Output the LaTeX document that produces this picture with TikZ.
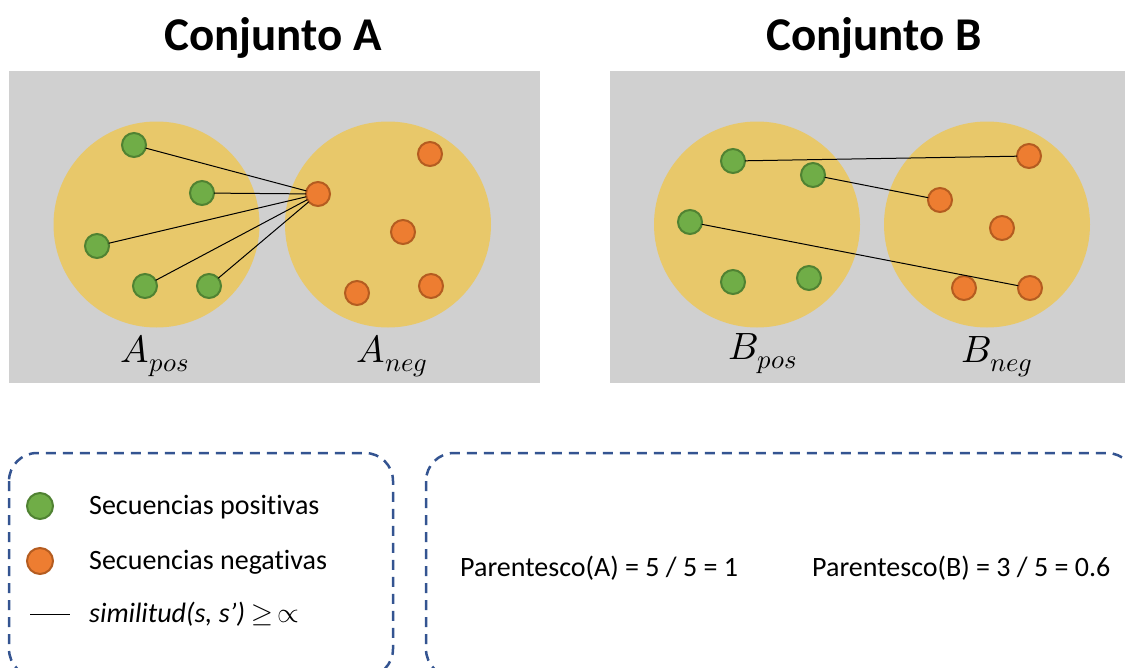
\documentclass[tikz,border=0pt]{standalone}
\usepackage{fontspec}
\usepackage{unicode-math}
\setmainfont{Carlito}[Ligatures=NoCommon]
\setmathfont{Latin Modern Math}
\usepackage{tkz-graph}
\definecolor{fondo}{RGB}{208,208,208}
\definecolor{amarillo}{RGB}{232,200,106}
\definecolor{verde}{RGB}{112,173,71}
\definecolor{verdeosc}{RGB}{80,130,50}
\definecolor{naranja}{RGB}{237,125,49}
\definecolor{naranjaosc}{RGB}{180,92,32}
\definecolor{marco}{RGB}{52,84,145}
\newcommand{\positiva}{verde}
\newcommand{\negativa}{naranja}
\tikzset{
  positivo/.style={circle, fill=\positiva, draw=verdeosc, line width=2pt, minimum size=24pt, inner sep=0pt},
  negativo/.style={circle, fill=\negativa, draw=naranjaosc, line width=2pt, minimum size=24pt, inner sep=0pt},
  conjunto/.style={circle, fill=amarillo, minimum size=206pt, inner sep=0pt},
  titulo/.style={font=\bfseries\fontsize{47}{50}\selectfont, anchor=base},
  etiqueta/.style={font=\fontsize{38}{42}\selectfont, anchor=base},
  texto/.style={font=\fontsize{28}{30}\selectfont, anchor=base west, inner sep=0pt},
  recuadro/.style={draw=marco, line width=2.5pt, dash pattern=on 10pt off 7pt, rounded corners=28pt}
}
\begin{document}
\begin{tikzpicture}[x=1pt,y=-1pt]
        \clip (0,0) rectangle (1125,667);
        \node[titulo] (tA) at (273,50) {Conjunto A};
        \node[titulo] (tB) at (874,50) {Conjunto B};
        \fill[fondo] (9,71) rectangle (540,383);
        \fill[fondo] (610,71) rectangle (1125,383);
        \node[conjunto] (Apos) at (156.5,224.5) {};
        \node[conjunto] (Aneg) at (388,224.5) {};
        \node[conjunto] (Bpos) at (757,224.5) {};
        \node[conjunto] (Bneg) at (987,224.5) {};
        \node[etiqueta] (lAp) at (155,362) {$A_{pos}$};
        \node[etiqueta] (lAn) at (392,362) {$A_{neg}$};
        \node[etiqueta] (lBp) at (763,359) {$B_{pos}$};
        \node[etiqueta] (lBn) at (997,362) {$B_{neg}$};
        %\GraphInit[vstyle=Classic]
        \SetVertexNoLabel
        \SetUpEdge[lw=1pt, color=black]
        \tikzset{VertexStyle/.style={positivo}}
        \Vertex[x=134,y=145]{ap1}
        \Vertex[x=202,y=193]{ap2}
        \Vertex[x=97,y=246]{ap3}
        \Vertex[x=145,y=286]{ap4}
        \Vertex[x=209,y=286]{ap5}
        \Vertex[x=733,y=161]{bp1}
        \Vertex[x=813,y=175]{bp2}
        \Vertex[x=690,y=222]{bp3}
        \Vertex[x=733,y=282]{bp4}
        \Vertex[x=809,y=278]{bp5}
        \tikzset{VertexStyle/.style={negativo}}
        \Vertex[x=318,y=194]{an1}
        \Vertex[x=430,y=154]{an2}
        \Vertex[x=403,y=232]{an3}
        \Vertex[x=357,y=293]{an4}
        \Vertex[x=431,y=286]{an5}
        \Vertex[x=1029,y=156]{bn1}
        \Vertex[x=940,y=200]{bn2}
        \Vertex[x=1002,y=228]{bn3}
        \Vertex[x=964,y=288]{bn4}
        \Vertex[x=1030,y=288]{bn5}
        \Edges(ap1,an1,ap2)
        \Edges(ap3,an1,ap4)
        \Edge(ap5)(an1)
        \Edge(bp1)(bn1)
        \Edge(bp2)(bn2)
        \Edge(bp3)(bn5)
        % leyenda
        \draw[recuadro] (9,453) rectangle (393,677);
        \draw[recuadro] (426,453) rectangle (1135,677);
        \node[positivo, minimum size=26pt] (lpos) at (40,506) {};
        \node[negativo, minimum size=26pt] (lneg) at (40,561) {};
        \coordinate (s1) at (30,614);
        \coordinate (s2) at (70,614);
        \draw[line width=1pt] (s1) -- (s2);
        \node[texto] (tpos) at (89,514) {Secuencias positivas};
        \node[texto] (tneg) at (89,569) {Secuencias negativas};
        \node[texto] (tsim) at (89,622) {\itshape similitud(s, s’) $\geq\, \propto$};
        \node[texto] (parA) at (460,576) {Parentesco(A) = 5 / 5 = 1};
        \node[texto] (parB) at (812,576) {Parentesco(B) = 3 / 5 = 0.6};
\end{tikzpicture}
\end{document}
